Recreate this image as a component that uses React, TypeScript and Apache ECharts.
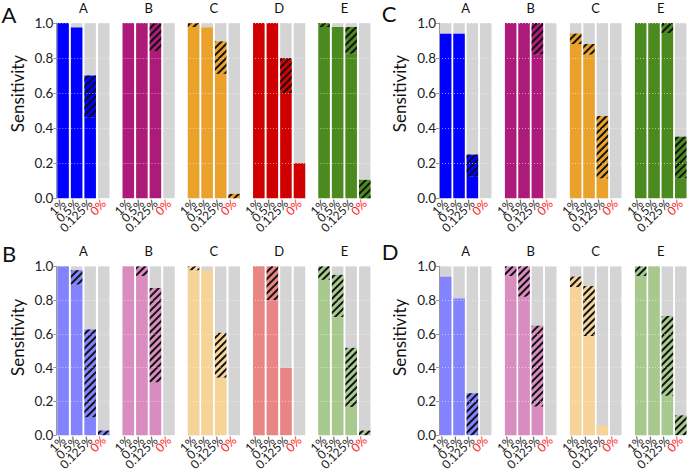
import React, { useEffect, useRef } from 'react';
import * as echarts from 'echarts';

const LEVELS = ['1%', '0.5%', '0.125%', '0%'];
const GROUPS_LEFT = ['A', 'B', 'C', 'D', 'E'];
const GROUPS_RIGHT = ['A', 'B', 'C', 'E'];

const DARK_LEFT = ['#0000ff', '#ad1a7a', '#eaa22a', '#d10000', '#4b8a1e'];
const LIGHT_LEFT = ['#8383ff', '#d98cc0', '#f6d396', '#e98585', '#a7c98e'];
const DARK_RIGHT = ['#0000ff', '#ad1a7a', '#eaa22a', '#4b8a1e'];
const LIGHT_RIGHT = ['#8383ff', '#d98cc0', '#f6d396', '#a7c98e'];

// Panel A: bar tops and lower bounds of hatched interval, per group (A..E), per level
const panelA_top = [
  [1.0, 0.975, 0.70, 0],
  [1.0, 1.0, 1.0, 0],
  [1.0, 0.975, 0.895, 0.025],
  [1.0, 1.0, 0.80, 0.20],
  [1.0, 0.977, 0.977, 0.105],
];
const panelA_low = [
  [1.0, 0.975, 0.46, 0],
  [1.0, 1.0, 0.84, 0],
  [0.977, 0.975, 0.71, 0],
  [1.0, 1.0, 0.60, 0.20],
  [0.977, 0.977, 0.825, 0],
];

// Panel B
const panelB_top = [
  [1.0, 0.977, 0.625, 0.027],
  [1.0, 1.0, 0.871, 0],
  [1.0, 0.977, 0.606, 0],
  [1.0, 1.0, 0.398, 0],
  [1.0, 0.949, 0.517, 0.027],
];
const panelB_low = [
  [1.0, 0.892, 0.106, 0],
  [1.0, 0.943, 0.314, 0],
  [0.977, 0.977, 0.341, 0],
  [1.0, 0.80, 0.398, 0],
  [0.92, 0.70, 0.167, 0],
];

// Panel C (groups A, B, C, E)
const panelC_top = [
  [0.939, 0.939, 0.249, 0],
  [1.0, 1.0, 1.0, 0],
  [0.939, 0.88, 0.469, 0],
  [1.0, 1.0, 1.0, 0.351],
];
const panelC_low = [
  [0.939, 0.939, 0.123, 0],
  [1.0, 1.0, 0.82, 0],
  [0.88, 0.82, 0.114, 0],
  [1.0, 1.0, 0.943, 0.114],
];

// Panel D (groups A, B, C, E)
const panelD_top = [
  [0.9375, 0.81, 0.248, 0],
  [1.0, 1.0, 0.648, 0],
  [0.939, 0.883, 0.057, 0],
  [1.0, 1.0, 0.706, 0.117],
];
const panelD_low = [
  [0.9375, 0.81, 0, 0],
  [0.943, 0.82, 0.17, 0],
  [0.877, 0.587, 0.057, 0],
  [0.943, 1.0, 0.233, 0],
];

const FONT = 'Lato, "Open Sans", sans-serif';

function buildOption() {
  const panels = [
    { letter: 'A', groups: GROUPS_LEFT, colors: DARK_LEFT, top: panelA_top, low: panelA_low, left: 56.3, pitch: 65.25, width: 54.2, y0: 22.7, h: 175.6, lx: 9, ly: 14, sx: 17 },
    { letter: 'B', groups: GROUPS_LEFT, colors: LIGHT_LEFT, top: panelB_top, low: panelB_low, left: 56.3, pitch: 65.25, width: 54.2, y0: 266.3, h: 176, lx: 9, ly: 253, sx: 17 },
    { letter: 'C', groups: GROUPS_RIGHT, colors: DARK_RIGHT, top: panelC_top, low: panelC_low, left: 439, pitch: 65, width: 53.4, y0: 22.7, h: 175.6, lx: 389, ly: 13, sx: 399 },
    { letter: 'D', groups: GROUPS_RIGHT, colors: LIGHT_RIGHT, top: panelD_top, low: panelD_low, left: 439, pitch: 65, width: 53.4, y0: 266.3, h: 176, lx: 390, ly: 251, sx: 399 },
  ];

  const grid: any[] = [];
  const xAxis: any[] = [];
  const yAxis: any[] = [];
  const series: any[] = [];
  const graphic: any[] = [];

  panels.forEach((p) => {
    graphic.push({
      type: 'text', x: p.lx, y: p.ly,
      style: { text: p.letter, font: `22px ${FONT}`, fill: '#111', align: 'center', verticalAlign: 'middle' },
    });
    graphic.push({
      type: 'text', x: p.sx, y: p.y0 + p.h / 2 - 17, rotation: Math.PI / 2,
      style: { text: 'Sensitivity', font: `17px ${FONT}`, fill: '#111', align: 'center', verticalAlign: 'middle' },
    });
    p.groups.forEach((g, gi) => {
      const gIdx = grid.length;
      grid.push({ left: p.left + gi * p.pitch, top: p.y0, width: p.width, height: p.h });
      const first = gi === 0;
      const bottomIdx = xAxis.length;
      xAxis.push({
        type: 'category', gridIndex: gIdx, data: LEVELS, position: 'bottom',
        axisLine: { show: false }, axisTick: { show: false },
        axisLabel: {
          interval: 0, rotate: 45, margin: 3, fontSize: 12, fontFamily: FONT,
          color: (v: string) => (v === '0%' ? '#ff1a1a' : '#222'),
        },
      });
      xAxis.push({
        type: 'category', gridIndex: gIdx, data: LEVELS, position: 'top',
        axisLine: { show: false }, axisTick: { show: false }, axisLabel: { show: false },
        name: g, nameLocation: 'middle', nameGap: 9,
        nameTextStyle: { fontSize: 13, fontFamily: FONT, color: '#111' },
      });
      const yIdx = yAxis.length;
      yAxis.push({
        type: 'value', gridIndex: gIdx, min: 0, max: 1, interval: 0.2, z: 3,
        axisLine: { show: first, lineStyle: { color: '#999' } },
        axisTick: { show: first, length: 3, lineStyle: { color: '#999' } },
        axisLabel: {
          show: first, fontSize: 13.5, fontFamily: FONT, color: '#222', margin: 3,
          formatter: (v: number) => v.toFixed(1),
        },
        splitLine: { show: true, lineStyle: { color: 'rgba(255,255,255,0.55)', type: [1, 2], width: 1 } },
      });
      const color = p.colors[gi];
      const lows = p.low[gi];
      const tops = p.top[gi];
      series.push({
        type: 'bar', xAxisIndex: bottomIdx, yAxisIndex: yIdx, stack: 's' + gIdx,
        data: lows, barWidth: 11.5,
        itemStyle: { color },
        showBackground: true, backgroundStyle: { color: '#d4d4d4' },
      });
      series.push({
        type: 'bar', xAxisIndex: bottomIdx, yAxisIndex: yIdx, stack: 's' + gIdx,
        data: tops.map((t, i) => +(t - lows[i]).toFixed(4)), barWidth: 11.5,
        itemStyle: {
          color,
          decal: {
            symbol: 'rect', symbolSize: 1, dashArrayX: [1, 0], dashArrayY: [1.1, 2.7],
            rotation: -Math.PI / 4, color: '#111',
          },
        },
      });
    });
  });

  return { animation: false, backgroundColor: '#fff', grid, xAxis, yAxis, series, graphic };
}

export default function App() {
  const ref = useRef<HTMLDivElement>(null);
  useEffect(() => {
    const chart = echarts.init(ref.current!, undefined, { renderer: 'svg' });
    chart.setOption(buildOption() as any);
    return () => chart.dispose();
  }, []);
  return <div ref={ref} style={{ position: 'fixed', left: 0, top: 0, width: 691, height: 473 }} />;
}
